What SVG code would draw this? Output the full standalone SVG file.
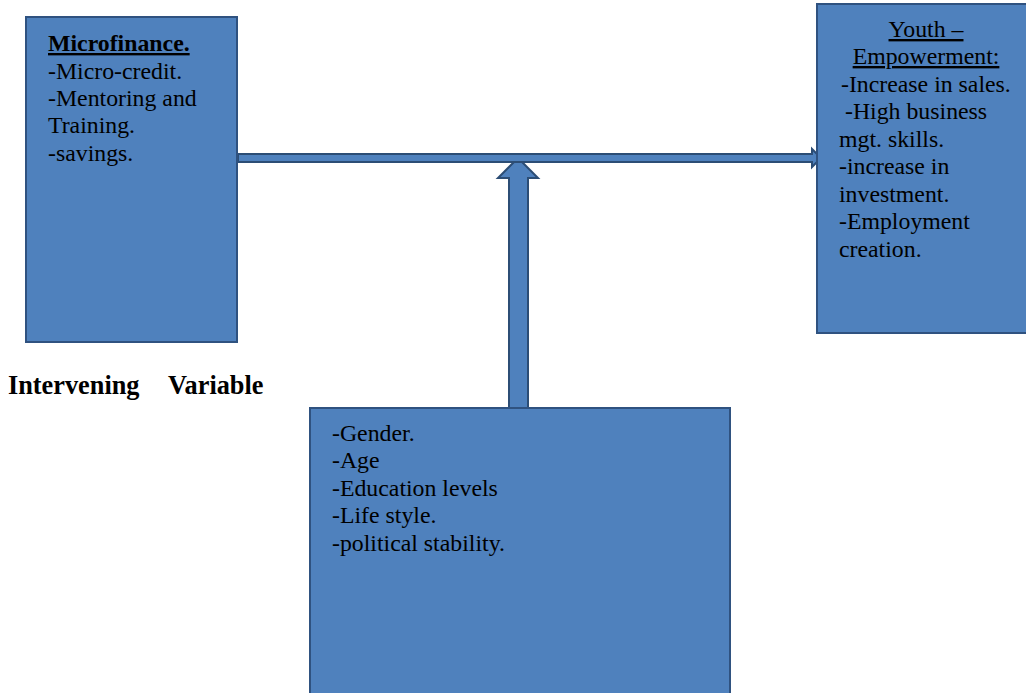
<svg xmlns="http://www.w3.org/2000/svg" width="1026" height="693" viewBox="0 0 1026 693">
<style>
.box{fill:#4F81BD;stroke:#2F5280;stroke-width:2}
.arr{fill:#4F81BD;stroke:#2C4D75;stroke-width:2;stroke-linejoin:miter}
text{font-family:"Liberation Serif","Times New Roman",serif;font-size:23.8px;fill:#000}
.b{font-weight:bold}
.u{text-decoration:underline}
.lbl{font-weight:bold;font-size:26.3px}
</style>
<rect width="1026" height="693" fill="#fff"/>
<g id="connectors">
<polygon class="arr" points="509,408 509,178 498,178 518,158 538,178 528,178 528,408"/>
<polygon class="arr" points="238,154 812,154 812,149 821,158 812,167 812,162 238,162"/>
</g>
<g id="microfinance">
<rect class="box" x="26" y="17" width="211" height="325"/>
<text x="48" y="51" class="b u">Microfinance.</text>
<text x="48" y="79">-Micro-credit.</text>
<text x="48" y="106">-Mentoring and</text>
<text x="48" y="133">Training.</text>
<text x="48" y="161">-savings.</text>
</g>
<g id="youth">
<rect class="box" x="817" y="4" width="214" height="329"/>
<text x="926" y="37" text-anchor="middle" class="u">Youth –</text>
<text x="926" y="64" text-anchor="middle" class="u">Empowerment:</text>
<text x="841" y="92">-Increase in sales.</text>
<text x="845" y="119">-High business</text>
<text x="839" y="147">mgt. skills.</text>
<text x="839" y="174">-increase in</text>
<text x="839" y="202">investment.</text>
<text x="839" y="229">-Employment</text>
<text x="839" y="257">creation.</text>
</g>
<g id="intervening-label">
<text x="8" y="394" class="lbl">Intervening<tspan x="168">Variable</tspan></text>
</g>
<g id="intervening">
<rect class="box" x="310" y="408" width="420" height="300"/>
<text x="332" y="441">-Gender.</text>
<text x="332" y="468">-Age</text>
<text x="332" y="496">-Education levels</text>
<text x="332" y="523">-Life style.</text>
<text x="332" y="551">-political stability.</text>
</g>
</svg>
